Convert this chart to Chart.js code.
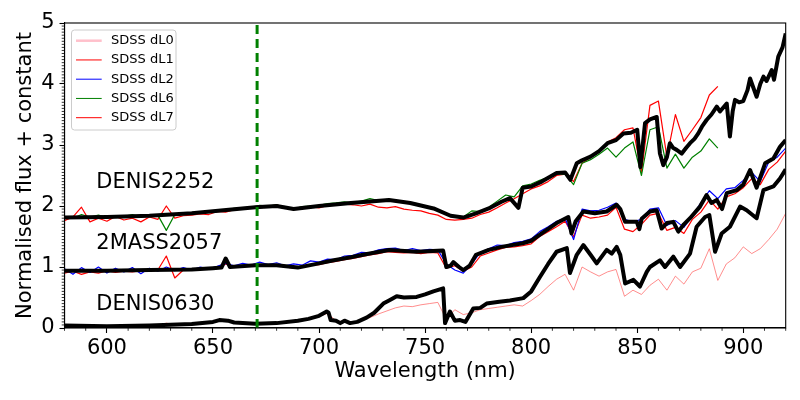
<!DOCTYPE html>
<html>
<head>
<meta charset="utf-8">
<script src="https://cdn.jsdelivr.net/npm/chart.js@4.4.1/dist/chart.umd.min.js"></script>
<style>
  body { margin: 0; background: #fff; }
  canvas { display: block; }
</style>
</head>
<body>
<canvas id="spectra" width="800" height="400"></canvas>
<script>
// tick labels
var xTicks = [600, 650, 700, 750, 800, 850, 900];
var yTicks = [0, 1, 2, 3, 4, 5];

// template spectra (thick black)
var d2252Wave = [580,600,620,640,655,670,680,688,695,700,715,733,743,754,762,768,774,780,786,790,794,796,800,805,812,816,818.5,821.5,824,828,832,836,840,843.5,847,850,851.5,853.7,856,859.2,860.7,862.3,864,865.4,867,868.6,871,873,874.9,877,878.8,880.5,882.7,885,887.5,889,892.2,893.7,895,896.1,898,900,902,903.2,906.3,908,909.5,911,913.4,914.5,916.5,918.5,920];
var d2252Flux = [1.81,1.82,1.84,1.88,1.93,1.98,2.0,1.95,1.98,2.0,2.05,2.10,2.05,1.96,1.84,1.81,1.88,1.96,2.07,2.13,1.97,2.30,2.32,2.40,2.54,2.55,2.43,2.70,2.75,2.81,2.90,3.03,3.08,3.19,3.20,3.25,2.64,3.36,3.42,3.46,2.86,2.67,2.80,3.03,2.95,2.92,2.86,2.95,3.03,3.10,3.19,3.30,3.41,3.50,3.63,3.55,3.68,3.14,3.55,3.74,3.70,3.72,3.90,4.09,3.79,4.00,4.12,4.05,4.23,4.07,4.45,4.60,4.83];

var m2057Wave = [580,600,620,640,650,654,656,658,670,680,690,700,707,715,722,733,746,758.5,760,762,763.3,766,768,771,774,780,786,796,800,805,812,817.5,819,821,824.6,830,835.6,840.3,842,844.3,849.8,851,852.1,856,859.2,861.5,864,867,869.4,872,874.9,879.6,882.7,885,887.5,890,892.2,896.9,900,903.2,906.3,910.3,914.2,917.3,920];
var m2057Flux = [0.94,0.94,0.95,0.96,0.98,0.99,1.14,1.00,1.03,1.03,0.99,1.06,1.11,1.16,1.21,1.28,1.25,1.27,1.00,1.02,1.08,1.00,0.95,1.02,1.20,1.28,1.33,1.39,1.43,1.55,1.72,1.82,1.55,1.75,1.91,1.88,1.91,2.02,1.95,1.74,1.74,1.62,1.79,1.91,1.93,1.63,1.72,1.74,1.58,1.70,1.80,1.99,2.18,2.05,2.10,1.95,2.21,2.26,2.35,2.59,2.30,2.70,2.78,2.97,3.08];

var d0630Wave = [580,600,620,640,650,653,657,660,670,680,690,695,700,703.6,704.5,705.5,708,710,712,714.6,718,722.4,726,730.3,733,736.6,740,746,750,753.9,758.5,759.4,761.7,764,766.5,769,772.7,776,779,785,790,796.3,800,804.2,808,812,816.8,818.3,821.5,824.6,828,830.9,835.6,838,840.3,842,844.3,848.2,851.3,854.5,856,860.7,863.1,867,870.2,874.9,878,882,884,886.7,889.8,893.7,898.5,901.6,906.3,909.5,914.2,917.3,920];
var d0630Flux = [0.04,0.03,0.04,0.065,0.10,0.13,0.12,0.09,0.07,0.08,0.12,0.15,0.20,0.27,0.25,0.13,0.12,0.08,0.12,0.08,0.10,0.17,0.25,0.40,0.45,0.52,0.50,0.51,0.55,0.60,0.65,0.08,0.27,0.12,0.13,0.10,0.32,0.33,0.40,0.43,0.45,0.49,0.60,0.84,1.05,1.25,1.31,0.90,1.20,1.36,1.20,1.06,1.28,1.22,1.33,1.20,0.73,0.79,0.68,0.92,1.00,1.11,1.00,1.17,1.00,1.22,1.66,1.82,1.85,1.25,1.55,1.66,1.99,1.93,1.80,2.26,2.32,2.45,2.60];

// SDSS comparison spectra, sampled every 4 nm
var sdssWave = [580,584,588,592,596,600,604,608,612,616,620,624,628,632,636,640,644,648,652,656,660,664,668,672,676,680,684,688,692,696,700,704,708,712,716,720,724,728,732,736,740,744,748,752,756,760,764,768,772,776,780,784,788,792,796,800,804,808,812,816,820,824,828,832,836,840,844,848,852,856,860,864,868,872,876,880,884,888,892,896,900,904,908,912,916,920];

var dL7Flux = [1.76,1.82,1.98,1.74,1.80, 1.75,1.83,1.77,1.80,1.74, 1.82,1.78,2.00,1.80,1.84, 1.85,1.87,1.86,1.91,1.90, 1.94,1.95,1.97,2.00,1.99, 2.02,1.97,1.94,1.98,1.99, 1.97,2.01,2.02,2.03,2.02, 2.00,2.03,1.98,1.97,1.99, 1.95,1.93,1.92,1.88,1.85, 1.78,1.77,1.78,1.80,1.86, 1.90,1.97,2.05,2.12,2.20, 2.28,2.33,2.40,2.50,2.52, 2.40,2.70,2.80,2.88,3.05, 3.12,3.25,3.28,2.55,3.65, 3.72,2.80,3.50,3.06,3.25, 3.45,3.82,3.96];
var dL6Flux = [1.83,1.80,1.86,1.82,1.85, 1.81,1.84,1.83,1.86,1.82, 1.84,1.85,1.60,1.86,1.87, 1.89,1.90,1.91,1.93,1.94, 1.96,1.97,1.98,2.01,2.00, 2.02,1.98,1.95,1.99,2.00, 2.01,2.04,2.05,2.07,2.05, 2.08,2.12,2.09,2.11,2.09, 2.07,2.05,2.02,1.98,1.93, 1.87,1.83,1.82,1.92,1.91, 1.98,2.08,2.18,2.15,2.33, 2.36,2.42,2.47,2.53,2.52, 2.35,2.70,2.76,2.85,2.95, 2.80,2.95,3.05,2.50,3.25, 3.30,2.62,2.85,2.62,2.80, 2.90,3.10,2.95];
var dL1Flux = [0.90,0.93,0.88,0.92,0.90, 0.94,0.91,0.93,0.92,0.94, 0.93,0.95,1.18,0.82,0.95, 0.95,0.96,0.97,0.98,1.05, 1.00,1.01,1.02,1.02,1.03, 1.02,1.00,0.98,1.00,1.03, 1.04,1.07,1.09,1.12,1.14, 1.17,1.20,1.22,1.25,1.24, 1.23,1.24,1.22,1.24,1.23, 0.98,1.02,0.93,1.00,1.18, 1.23,1.28,1.32,1.33,1.35, 1.38,1.50,1.58,1.66,1.75, 1.50,1.85,1.80,1.82,1.85, 1.98,1.62,1.58,1.70,1.85, 1.88,1.60,1.65,1.55,1.78, 1.90,2.10,1.95,2.15,2.20, 2.30,2.45,2.35,2.60,2.72, 2.90];
var dL2Flux = [0.97,0.88,0.99,0.91,1.00, 0.90,0.98,0.92,0.99,0.89, 0.98,0.93,1.00,0.94,0.99, 0.95,1.00,0.97,1.01,1.06, 1.02,1.06,1.03,1.08,1.04, 1.07,1.02,1.05,1.03,1.10, 1.08,1.13,1.12,1.18,1.19, 1.24,1.23,1.28,1.30,1.31, 1.27,1.30,1.27,1.29,1.28, 1.05,0.95,0.90,1.05,1.24, 1.30,1.36,1.35,1.40,1.42, 1.46,1.58,1.66,1.75,1.80, 1.45,1.95,1.92,1.93,1.98, 2.05,1.78,1.74,1.78,1.95, 1.97,1.68,1.76,1.65,1.84, 2.05,2.25,2.12,2.28,2.30, 2.42,2.55,2.40,2.72,2.80, 2.95];
var dL0Flux = [0.03,0.02,0.03,0.02,0.03, 0.02,0.03,0.04,0.03,0.03, 0.04,0.04,0.08,0.05,0.05, 0.06,0.07,0.08,0.13,0.14, 0.10,0.08,0.07,0.07,0.08, 0.07,0.09,0.11,0.13,0.16, 0.19,0.24,0.12,0.10,0.09, 0.13,0.17,0.23,0.28,0.33, 0.36,0.35,0.38,0.40,0.42, 0.14,0.30,0.22,0.25,0.30, 0.32,0.34,0.36,0.38,0.36, 0.45,0.55,0.68,0.80,0.88, 0.62,1.00,0.92,0.85,0.92, 0.96,0.52,0.62,0.55,0.70, 0.80,0.62,0.85,0.72,0.92, 0.98,1.30,0.78,1.05,1.15, 1.33,1.22,1.30,1.45,1.62, 1.88];

// Li 670.8 nm marker
var liWave = [670.8, 670.8];
var liFlux = [0, 5];

var objectNames = ['DENIS2252', '2MASS2057', 'DENIS0630'];
var objectLabelY = [2.3, 1.3, 0.3];
var objectLabelX = 595;

var legendLabels = ['SDSS dL0', 'SDSS dL1', 'SDSS dL2', 'SDSS dL6', 'SDSS dL7'];
var legendColors = ['#ffc0cb', '#ff0000', '#0000ff', '#008000', '#ff0000'];
var legendWidths = [2.5, 1, 1, 1, 1];

function pts(wave, flux) {
    return flux.map(function(f, i) { return {x: wave[i], y: f}; });
}

var FONT = 'DejaVu Sans';
Chart.defaults.font.family = FONT;

function line(wave, flux, color, width, extra) {
    var ds = {
        data: pts(wave, flux),
        borderColor: color,
        borderWidth: width,
        pointRadius: 0,
        fill: false,
        tension: 0,
        borderJoinStyle: 'round'
    };
    for (var k in extra || {}) ds[k] = extra[k];
    return ds;
}

// minor ticks, frame, object names and legend box
var decorations = {
    id: 'decorations',
    afterDraw: function(chart) {
        var ctx = chart.ctx, a = chart.chartArea;
        var xs = chart.scales.x, ys = chart.scales.y;
        ctx.save();
        ctx.strokeStyle = '#000';
        ctx.lineWidth = 0.8;
        ctx.beginPath();
        for (var v = 580; v <= 920; v += 10) {
            if (v % 50 === 0) continue;
            var px = xs.getPixelForValue(v);
            ctx.moveTo(px, a.bottom);
            ctx.lineTo(px, a.bottom + 2.8);
        }
        for (var j = 0; j <= 100; j++) {
            if (j % 20 === 0) continue;
            var py = ys.getPixelForValue(j * 0.05);
            ctx.moveTo(a.left, py);
            ctx.lineTo(a.left - 2.8, py);
        }
        ctx.stroke();

        ctx.lineWidth = 1.1;
        ctx.strokeRect(a.left, a.top, a.right - a.left, a.bottom - a.top);

        ctx.fillStyle = '#000';
        ctx.font = '21px "' + FONT + '"';
        ctx.textAlign = 'left';
        ctx.textBaseline = 'alphabetic';
        objectNames.forEach(function(name, i) {
            ctx.fillText(name, xs.getPixelForValue(objectLabelX), ys.getPixelForValue(objectLabelY[i]));
        });

        // legend
        var lx = 71.5, ly = 30, lw = 104.5, lh = 100;
        ctx.beginPath();
        ctx.roundRect(lx, ly, lw, lh, 3);
        ctx.fillStyle = 'rgba(255,255,255,0.8)';
        ctx.fill();
        ctx.strokeStyle = '#cccccc';
        ctx.lineWidth = 1;
        ctx.stroke();
        ctx.font = '13px "' + FONT + '"';
        ctx.textBaseline = 'middle';
        legendLabels.forEach(function(lab, i) {
            var y = 40.7 + i * 19.25;
            ctx.beginPath();
            ctx.strokeStyle = legendColors[i];
            ctx.lineWidth = legendWidths[i];
            ctx.moveTo(76, y);
            ctx.lineTo(101.7, y);
            ctx.stroke();
            ctx.fillStyle = '#000';
            ctx.fillText(lab, 111, y);
        });
        ctx.restore();
    }
};

var black = '#000000';
var ctx = document.getElementById('spectra').getContext('2d');
new Chart(ctx, {
    type: 'line',
    data: {
        datasets: [
            line(liWave, liFlux, '#008000', 3, {borderDash: [9, 5], borderJoinStyle: 'miter'}),
            line(d2252Wave, d2252Flux, black, 4),
            line(m2057Wave, m2057Flux, black, 4),
            line(d0630Wave, d0630Flux, black, 4),
            line(sdssWave, dL6Flux, '#008000', 1.2),
            line(sdssWave, dL7Flux, '#ff0000', 1.2),
            line(sdssWave, dL2Flux, '#0000ff', 1.2),
            line(sdssWave, dL1Flux, '#ff0000', 1.2),
            line(sdssWave, dL0Flux, 'rgba(255,60,60,0.65)', 0.9)
        ]
    },
    options: {
        responsive: false,
        animation: false,
        devicePixelRatio: 1,
        layout: { padding: { left: 0, top: 23, right: 14.3, bottom: 0 } },
        plugins: {
            legend: { display: false },
            tooltip: { enabled: false }
        },
        scales: {
            x: {
                type: 'linear',
                min: 580,
                max: 920,
                afterBuildTicks: function(s) { s.ticks = xTicks.map(function(v) { return {value: v}; }); },
                afterFit: function(s) { s.height = 72; },
                ticks: { color: '#000', font: { size: 21 }, padding: 3, maxRotation: 0, autoSkip: false },
                grid: { drawOnChartArea: false, tickLength: 5, tickColor: '#000', tickWidth: 1.1 },
                border: { color: '#000', width: 1.1 },
                title: { display: true, text: 'Wavelength (nm)', color: '#000', font: { size: 21 }, padding: { top: 0, bottom: 15.5 } }
            },
            y: {
                type: 'linear',
                min: 0,
                max: 5,
                afterBuildTicks: function(s) { s.ticks = yTicks.map(function(v) { return {value: v}; }); },
                afterFit: function(s) { s.width = 64.5; },
                ticks: { color: '#000', font: { size: 21 }, padding: 5 },
                grid: { drawOnChartArea: false, tickLength: 5, tickColor: '#000', tickWidth: 1.1 },
                border: { color: '#000', width: 1.1 },
                title: { display: true, text: 'Normalised flux + constant', color: '#000', font: { size: 21 }, padding: { top: 13, bottom: 0 } }
            }
        }
    },
    plugins: [decorations]
});
</script>
</body>
</html>
